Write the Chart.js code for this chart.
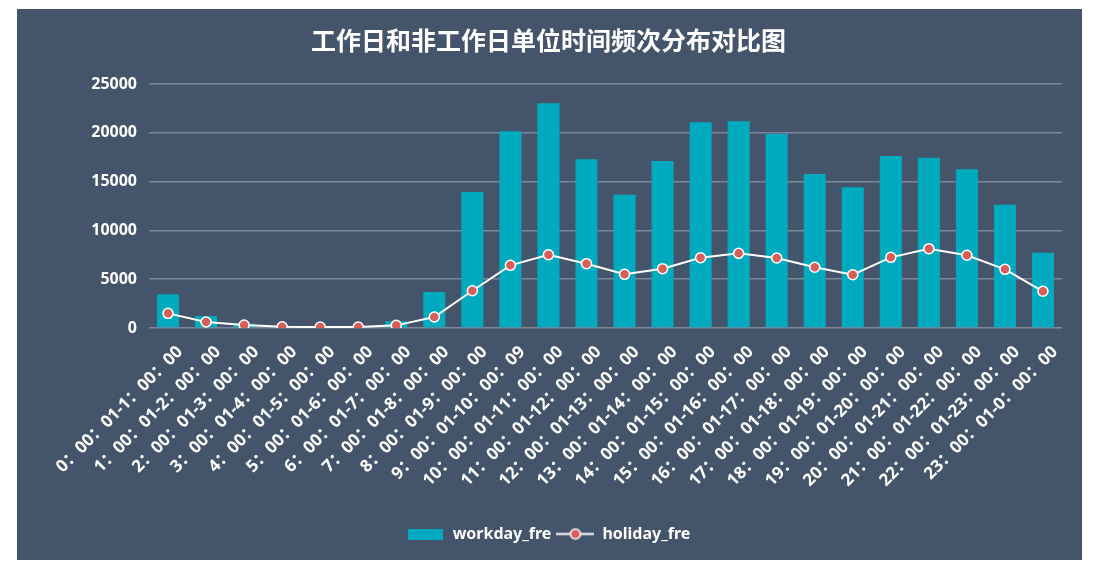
<!DOCTYPE html>
<html>
<head>
<meta charset="utf-8">
<script src="https://cdn.jsdelivr.net/npm/chart.js@4/dist/chart.umd.min.js"></script>
<style>
  body { margin: 0; background: #ffffff; }
  #painel {
    position: absolute;
    left: 17px;
    top: 9px;
    width: 1065px;
    height: 551px;
    background: #44546a;
  }
</style>
</head>
<body>
<div id="painel"><canvas id="grafico" width="1065" height="551"></canvas></div>
<script>
// ================= DADOS =================
const horas = [
  "0：00：01-1：00：00", "1：00：01-2：00：00", "2：00：01-3：00：00",
  "3：00：01-4：00：00", "4：00：01-5：00：00", "5：00：01-6：00：00",
  "6：00：01-7：00：00", "7：00：01-8：00：00", "8：00：01-9：00：00",
  "9：00：01-10：00：09", "10：00：01-11：00：00", "11：00：01-12：00：00",
  "12：00：01-13：00：00", "13：00：01-14：00：00", "14：00：01-15：00：00",
  "15：00：01-16：00：00", "16：00：01-17：00：00", "17：00：01-18：00：00",
  "18：00：01-19：00：00", "19：00：01-20：00：00", "20：00：01-21：00：00",
  "21：00：01-22：00：00", "22：00：01-23：00：00", "23：00：01-0：00：00"
];

const workdayFre = [
  3450, 1230, 450, 200, 100, 100, 700, 3690, 13930, 20150, 23020, 17280,
  13660, 17110, 21070, 21180, 19880, 15780, 14410, 17620, 17450, 16260, 12630, 7720
];

const holidayFre = [
  1500, 620, 310, 130, 90, 100, 270, 1130, 3820, 6420, 7510, 6590,
  5500, 6080, 7200, 7650, 7170, 6220, 5460, 7240, 8130, 7450, 6010, 3760
];

const titulo = "工作日和非工作日单位时间频次分布对比图";

// ================= CORES =================
const corBarra = "#00abc0";
const corPonto = "#d65f5a";
const corGrade = "#7a879b";

// ícones da legenda
const iconeBarra = document.createElement("canvas");
iconeBarra.width = 35;
iconeBarra.height = 11;
const cb = iconeBarra.getContext("2d");
cb.fillStyle = corBarra;
cb.fillRect(0, 0, 35, 11);

const iconeLinha = document.createElement("canvas");
iconeLinha.width = 38;
iconeLinha.height = 13;
const cl = iconeLinha.getContext("2d");
cl.strokeStyle = "#ffffff";
cl.lineWidth = 2;
cl.beginPath();
cl.moveTo(0, 6.5);
cl.lineTo(38, 6.5);
cl.stroke();
cl.beginPath();
cl.arc(19, 6.5, 5, 0, Math.PI * 2);
cl.fillStyle = corPonto;
cl.fill();
cl.lineWidth = 1.5;
cl.stroke();

Chart.defaults.font.family = "'Noto Sans', 'Noto Sans CJK SC', sans-serif";
Chart.defaults.color = "#ffffff";

new Chart(document.getElementById("grafico"), {
  type: "bar",
  data: {
    labels: horas,
    datasets: [
      {
        type: "line",
        label: "holiday_fre",
        data: holidayFre,
        borderColor: "#ffffff",
        borderWidth: 2,
        pointRadius: 5,
        pointBorderWidth: 1.5,
        pointBackgroundColor: corPonto,
        pointBorderColor: "#ffffff",
        pointStyle: "circle",
        order: 0
      },
      {
        label: "workday_fre",
        data: workdayFre,
        backgroundColor: corBarra,
        categoryPercentage: 1,
        barPercentage: 0.58,
        order: 1
      }
    ]
  },
  options: {
    responsive: false,
    animation: false,
    layout: { padding: { left: 18, right: 20, top: 0, bottom: 8 } },
    plugins: {
      title: {
        display: true,
        text: titulo,
        color: "#ffffff",
        font: { size: 25, weight: "bold", family: "'Noto Sans CJK SC', sans-serif" },
        padding: { top: 16, bottom: 29 }
      },
      legend: {
        position: "bottom",
        reverse: true,
        labels: {
          usePointStyle: true,
          pointStyleWidth: 38,
          boxHeight: 13,
          padding: 5,
          color: "#ffffff",
          font: { size: 16, weight: "bold" },
          generateLabels(chart) {
            return chart.data.datasets.map((ds, i) => ({
              text: ds.label,
              fontColor: "#ffffff",
              pointStyle: ds.type === "line" ? iconeLinha : iconeBarra,
              datasetIndex: i,
              hidden: false,
              lineWidth: 0
            }));
          }
        }
      },
      tooltip: { enabled: false }
    },
    scales: {
      x: {
        grid: { display: false },
        border: { display: false },
        afterFit: scale => { scale.height = 193; },
        ticks: {
          autoSkip: false,
          maxRotation: 45,
          minRotation: 45,
          padding: 6,
          labelOffset: 12,
          color: "#ffffff",
          font: { size: 17, weight: "bold" }
        }
      },
      y: {
        min: 0,
        max: 25000,
        grid: { color: corGrade, lineWidth: 1.5, drawTicks: false },
        border: { display: false },
        afterFit: scale => { scale.width = 114; },
        ticks: {
          stepSize: 5000,
          padding: 12,
          color: "#ffffff",
          font: { size: 16, weight: "bold" },
          callback: v => String(v)
        }
      }
    }
  }
});
</script>
</body>
</html>
